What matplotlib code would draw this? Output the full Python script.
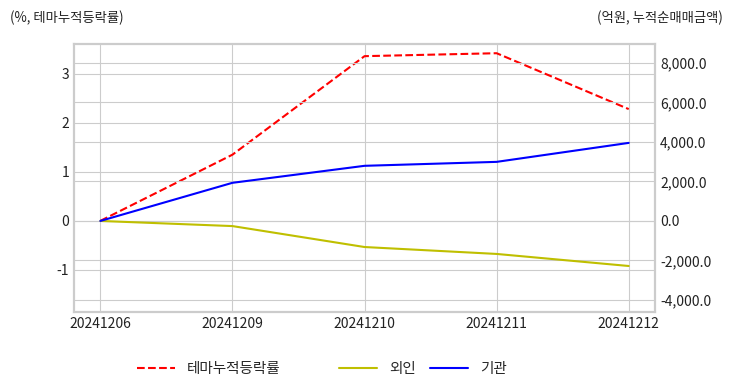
import matplotlib.pyplot as plt
from matplotlib.ticker import FuncFormatter

plt.style.use('seaborn-v0_8-whitegrid')
plt.rcParams['font.family'] = ['Noto Sans CJK KR', 'DejaVu Sans']
plt.rcParams['axes.unicode_minus'] = False

# 데이터
dates = ['20241206', '20241209', '20241210', '20241211', '20241212']
theme_rate = [0.0, 1.35, 3.36, 3.42, 2.28]
foreign = [0.0, -260.0, -1320.0, -1670.0, -2280.0]
institution = [0.0, 1930.0, 2790.0, 2990.0, 3950.0]

fig = plt.figure(figsize=(7.32, 3.92), dpi=100)
ax1 = fig.add_axes([0.101, 0.204, 0.794, 0.684])
ax2 = ax1.twinx()

l1, = ax1.plot(dates, theme_rate, color='red', linestyle='--', linewidth=1.5, label='테마누적등락률')
l2, = ax2.plot(dates, foreign, color='y', linewidth=1.5, label='외인')
l3, = ax2.plot(dates, institution, color='blue', linewidth=1.5, label='기관')

ax1.set_ylim(-1.86, 3.61)
ax2.set_ylim(-4610, 8960)
ax1.set_yticks([-1, 0, 1, 2, 3])
ax2.set_yticks([-4000, -2000, 0, 2000, 4000, 6000, 8000])
ax2.yaxis.set_major_formatter(FuncFormatter(lambda v, p: f'{v:,.1f}'))

for ax in (ax1, ax2):
    ax.grid(True, color='#cccccc', linewidth=0.8)
    ax.tick_params(labelsize=10, length=0, colors='#222222')
    for s in ax.spines.values():
        s.set_visible(True)
        s.set_color('#cccccc')
        s.set_linewidth(1.5)

fig.text(0.013, 0.955, '(%, 테마누적등락률)', fontsize=9.6, ha='left', va='center', color='#222222')
fig.text(0.987, 0.955, '(억원, 누적순매매금액)', fontsize=9.6, ha='right', va='center', color='#222222')

leg1 = fig.legend(handles=[l1], loc='center', bbox_to_anchor=(0.285, 0.058), frameon=False,
                  fontsize=10.5, handlelength=2.6)
leg2 = fig.legend(handles=[l2, l3], loc='center', bbox_to_anchor=(0.578, 0.058), ncol=2, frameon=False,
                  fontsize=10.5, handlelength=2.6, columnspacing=1.0)

plt.savefig('out.png', dpi=100)
